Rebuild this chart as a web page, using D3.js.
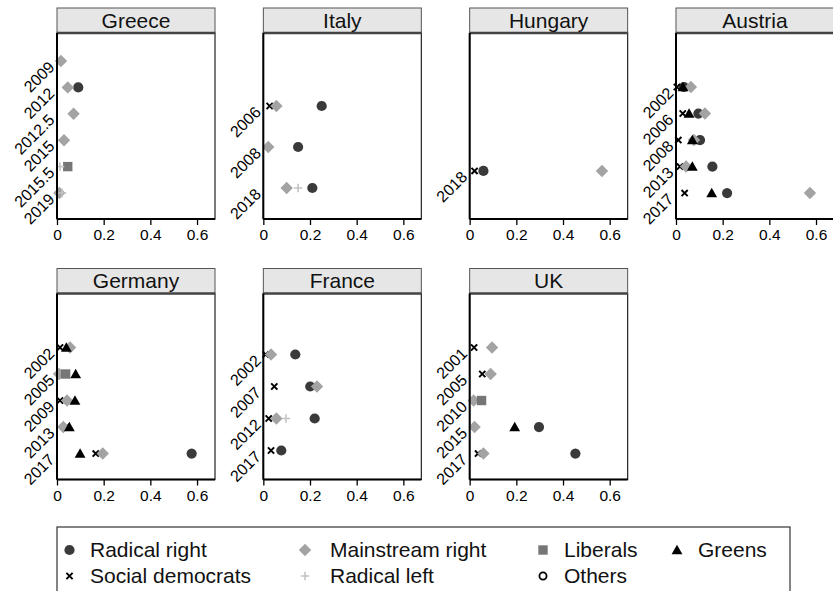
<!DOCTYPE html>
<html>
<head>
<meta charset="utf-8">
<script src="https://cdn.jsdelivr.net/npm/d3@7"></script>
<style>
  html, body { margin: 0; padding: 0; background: #fff; }
  svg { display: block; font-family: "Liberation Sans", Arial, Helvetica, sans-serif; }
</style>
</head>
<body>
<svg id="chart" width="833" height="591"></svg>
<script>
// Panels (countries) and the elections shown in each
const countries = ["Greece", "Italy", "Hungary", "Austria", "Germany", "France", "UK"];

const greeceYears  = ["2009", "2012", "2012.5", "2015", "2015.5", "2019"];
const italyYears   = ["2006", "2008", "2018"];
const hungaryYears = ["2018"];
const austriaYears = ["2002", "2006", "2008", "2013", "2017"];
const germanyYears = ["2002", "2005", "2009", "2013", "2017"];
const franceYears  = ["2002", "2007", "2012", "2017"];
const ukYears      = ["2001", "2005", "2010", "2015", "2017"];

// Party family values, one entry per election (null = not shown)
const radicalRight = {
  Greece:  [null, 0.091, null, null, null, null],
  Italy:   [0.25, 0.149, 0.21],
  Hungary: [0.059],
  Austria: [0.034, 0.096, 0.103, 0.156, 0.219],
  Germany: [null, null, null, null, 0.577],
  France:  [0.137, 0.201, 0.22, 0.077],
  UK:      [null, null, null, 0.297, 0.453]
};
const socialDemocrats = {
  Greece:  [null, null, null, null, null, null],
  Italy:   [0.027, null, null],
  Hungary: [0.021],
  Austria: [0.004, 0.029, 0.01, 0.017, 0.037],
  Germany: [0.013, null, 0.013, 0.04, 0.166],
  France:  [0.01, 0.047, 0.023, 0.033],
  UK:      [0.019, 0.054, null, null, 0.036]
};
const mainstreamRight = {
  Greece:  [0.017, 0.046, 0.071, 0.03, null, 0.01],
  Italy:   [0.056, 0.021, 0.1],
  Hungary: [0.567],
  Austria: [0.064, 0.124, 0.077, 0.043, 0.574],
  Germany: [0.056, 0.009, 0.043, 0.027, 0.196],
  France:  [0.033, 0.23, 0.056, null],
  UK:      [0.096, 0.09, 0.017, 0.021, 0.059]
};
const radicalLeft = {
  Greece:  [null, null, null, null, 0.013, 0.022],
  Italy:   [null, null, 0.149],
  Hungary: [null],
  Austria: [null, null, null, null, null],
  Germany: [null, null, null, null, null],
  France:  [null, null, 0.097, null],
  UK:      [null, null, null, null, null]
};
const liberals = {
  Greece:  [null, null, null, null, 0.046, null],
  Italy:   [null, null, null],
  Hungary: [null],
  Austria: [null, null, null, null, null],
  Germany: [null, 0.037, null, null, null],
  France:  [null, null, null, null],
  UK:      [null, null, 0.051, null, null]
};
const greens = {
  Greece:  [null, null, null, null, null, null],
  Italy:   [null, null, null],
  Hungary: [null],
  Austria: [0.03, 0.056, 0.07, 0.07, 0.153],
  Germany: [0.04, 0.08, 0.077, 0.053, 0.099],
  France:  [null, null, null, null],
  UK:      [null, null, null, 0.193, null]
};
const others = {
  Greece:  [null, null, null, null, null, null],
  Italy:   [null, null, null],
  Hungary: [null],
  Austria: [null, null, null, null, null],
  Germany: [null, null, null, null, null],
  France:  [null, null, null, null],
  UK:      [null, null, null, null, null]
};

const xTicks = [0, 0.2, 0.4, 0.6];

const yearsByCountry = {
  Greece: greeceYears, Italy: italyYears, Hungary: hungaryYears, Austria: austriaYears,
  Germany: germanyYears, France: franceYears, UK: ukYears
};

// Series in legend order, with their marker styles
const series = [
  { name: "Radical right",    values: radicalRight,    shape: "circle",   fill: "#3a3a3a" },
  { name: "Social democrats", values: socialDemocrats, shape: "cross",    stroke: "#000" },
  { name: "Mainstream right", values: mainstreamRight, shape: "diamond",  fill: "#a3a3a3" },
  { name: "Radical left",     values: radicalLeft,     shape: "plus",     stroke: "#c4c4c4" },
  { name: "Liberals",         values: liberals,        shape: "square",   fill: "#767676" },
  { name: "Greens",           values: greens,          shape: "triangle", fill: "#000" },
  { name: "Others",           values: others,          shape: "ring",     stroke: "#000" }
];
// Draw order inside a panel (later on top)
const drawOrder = ["Radical right", "Social democrats", "Mainstream right", "Liberals", "Greens", "Radical left", "Others"];

// ---- layout ----
const svg = d3.select("#chart");
svg.append("rect").attr("width", 833).attr("height", 591).attr("fill", "#fff");

const panelW = 158, headerH = 25, plotH = 186;
const colX = i => 57 + i * 206.33;
const rowTop = [8, 268.5];
const xMax = 0.677;

// vertical extent of each panel's category axis, by number of elections
const yExtent = { 1: [-1.9, 2.01], 3: [-0.78, 3.756], 4: [-0.906, 4.906], 5: [-1.038, 5.98], 6: [-0.061, 6.985] };

function markerPath(shape) {
  switch (shape) {
    case "circle":   return d3.symbol(d3.symbolCircle, 82)();
    case "square":   return d3.symbol(d3.symbolSquare, 88)();
    case "diamond":  { const h = 6.2; return `M0,${-h}L${h},0L0,${h}L${-h},0Z`; }
    case "triangle": { const w = 5.4, t = -5.2, b = 4.2; return `M0,${t}L${w},${b}L${-w},${b}Z`; }
    case "cross":    { const c = 3.1; return `M${-c},${-c}L${c},${c}M${-c},${c}L${c},${-c}`; }
    case "plus":     { const c = 4.2; return `M${-c},0L${c},0M0,${-c}L0,${c}`; }
    case "ring":     return d3.symbol(d3.symbolCircle, 40)();
  }
}
function styleMarker(sel, s) {
  if (s.shape === "cross") sel.attr("fill", "none").attr("stroke", s.stroke).attr("stroke-width", 2);
  else if (s.shape === "plus") sel.attr("fill", "none").attr("stroke", s.stroke).attr("stroke-width", 1.6);
  else if (s.shape === "ring") sel.attr("fill", "#fff").attr("stroke", s.stroke).attr("stroke-width", 1.8);
  else sel.attr("fill", s.fill).attr("stroke", "none");
}

countries.forEach((country, i) => {
  const col = i < 4 ? i : i - 4;
  const row = i < 4 ? 0 : 1;
  const x0 = colX(col);
  const top = rowTop[row];
  const plotTop = top + headerH;
  const years = yearsByCountry[country];

  const g = svg.append("g");

  const x = d3.scaleLinear().domain([0, xMax]).range([x0, x0 + panelW]);
  const y = d3.scaleLinear().domain(yExtent[years.length]).range([plotTop, plotTop + plotH]);

  // plot region outline
  g.append("rect")
    .attr("x", x0).attr("y", plotTop).attr("width", panelW).attr("height", plotH)
    .attr("fill", "#fff").attr("stroke", "#222").attr("stroke-width", 1.2);

  // header strip
  g.append("rect")
    .attr("x", x0).attr("y", top).attr("width", panelW).attr("height", headerH)
    .attr("fill", "#e6e6e6").attr("stroke", "#555").attr("stroke-width", 1);
  g.append("line")
    .attr("x1", x0).attr("x2", x0 + panelW).attr("y1", plotTop).attr("y2", plotTop)
    .attr("stroke", "#444").attr("stroke-width", 2.6);
  g.append("text")
    .attr("x", x0 + panelW / 2).attr("y", top + 19.5)
    .attr("text-anchor", "middle").attr("font-size", 21).attr("fill", "#111")
    .text(country);

  // markers
  drawOrder.forEach(name => {
    const s = series.find(d => d.name === name);
    const vals = s.values[country];
    const pts = vals.map((v, k) => ({ v, k })).filter(d => d.v !== null);
    const m = g.selectAll(null).data(pts).enter().append("path")
      .attr("d", markerPath(s.shape))
      .attr("transform", d => `translate(${x(d.v)},${y(d.k + 1)})`);
    styleMarker(m, s);
  });

  // x axis
  const xa = g.append("g")
    .attr("transform", `translate(0,${plotTop + plotH})`)
    .call(d3.axisBottom(x).tickValues(xTicks).tickSize(6).tickSizeOuter(0).tickPadding(4)
      .tickFormat(d3.format("~g")));
  xa.select(".domain").attr("stroke", "#000").attr("stroke-width", 2)
    .attr("d", `M${x0},0H${x0 + panelW}`);
  xa.selectAll(".tick line").attr("stroke", "#000").attr("stroke-width", 1.3);
  xa.selectAll(".tick text").attr("font-size", 15.5).attr("fill", "#000")
    .attr("font-family", "'Liberation Sans', Arial, Helvetica, sans-serif");

  // y axis with rotated election labels
  const ya = g.append("g")
    .attr("transform", `translate(${x0},0)`)
    .call(d3.axisLeft(y).tickValues(d3.range(1, years.length + 1)).tickSize(0).tickSizeOuter(0)
      .tickFormat(k => years[k - 1]));
  ya.select(".domain").attr("stroke", "#000").attr("stroke-width", 2)
    .attr("d", `M0,${plotTop}V${plotTop + plotH}`);
  ya.selectAll(".tick text")
    .attr("font-size", 16).attr("fill", "#000")
    .attr("font-family", "'Liberation Sans', Arial, Helvetica, sans-serif")
    .attr("x", null).attr("dy", null)
    .attr("text-anchor", "end")
    .attr("transform", "translate(-5,3) rotate(-45)")
    .attr("dy", "0.32em");
});

// ---- legend ----
const lg = svg.append("g");
lg.append("rect").attr("x", 57).attr("y", 527).attr("width", 733).attr("height", 80)
  .attr("fill", "#fff").attr("stroke", "#333").attr("stroke-width", 1.2);

const legendSlots = [
  { name: "Radical right",    col: 0, row: 0 },
  { name: "Social democrats", col: 0, row: 1 },
  { name: "Mainstream right", col: 1, row: 0 },
  { name: "Radical left",     col: 1, row: 1 },
  { name: "Liberals",         col: 2, row: 0 },
  { name: "Others",           col: 2, row: 1 },
  { name: "Greens",           col: 3, row: 0 }
];
const legMarkX = [69.5, 305, 543, 677];
const legTextX = [90, 330, 564, 698];
const legRowY = [550, 576];

legendSlots.forEach(slot => {
  const s = series.find(d => d.name === slot.name);
  const yy = legRowY[slot.row];
  const m = lg.append("path").attr("d", markerPath(s.shape))
    .attr("transform", `translate(${legMarkX[slot.col]},${yy})`);
  styleMarker(m, s);
  lg.append("text").attr("x", legTextX[slot.col]).attr("y", yy).attr("dy", "0.35em")
    .attr("font-size", 21).attr("fill", "#111").text(s.name);
});
</script>
</body>
</html>
